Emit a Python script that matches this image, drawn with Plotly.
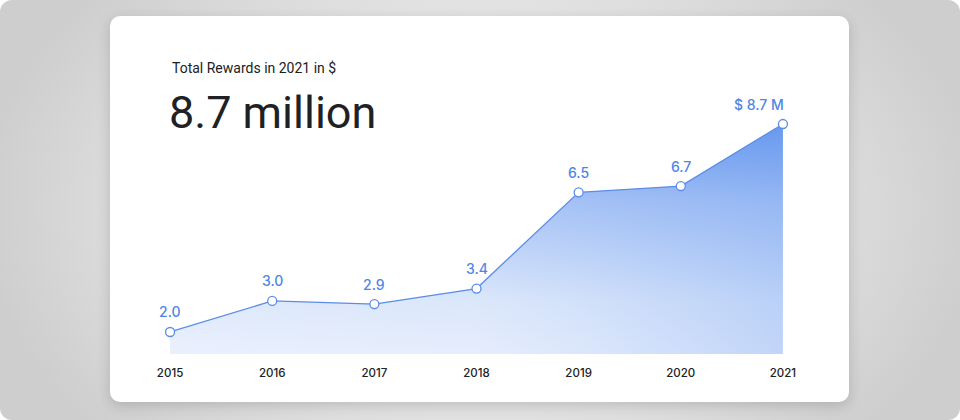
import base64
import plotly.graph_objects as go

# ---------------- data ----------------
years = [2015, 2016, 2017, 2018, 2019, 2020, 2021]
rewards_musd = [2.0, 3.0, 2.9, 3.4, 6.5, 6.7, 8.7]
point_labels = ["2.0", "3.0", "2.9", "3.4", "6.5", "6.7", "$ 8.7 M"]
tick_labels = ["2015", "2016", "2017", "2018", "2019", "2020", "2021"]
caption_text = "Total Rewards in 2021 in $"
headline_text = "8.7 million"

# ---------------- layout geometry ----------------
W, H = 960, 420
ML, MR, MT, MB = 119, 126, 16, 66
PW, PH = W - ML - MR, H - MT - MB
Y_MIN, Y_MAX = 1.291, 12.18


def xp(px):
    return (px - ML) / PW


def yp(py):
    return (H - MB - py) / PH


BLUE_LINE = "#5b8de8"
BLUE_TEXT = "#4f86e6"
DARK = "#202124"
FONT = "Roboto, 'Open Sans', sans-serif"
FONT_NUM = "Inter, 'Open Sans', sans-serif"

# background: gray rounded panel, card shadow, white card
svg = f'''<svg xmlns="http://www.w3.org/2000/svg" width="{W}" height="{H}" viewBox="0 0 {W} {H}">
<defs>
<radialGradient id="bg" gradientUnits="userSpaceOnUse" cx="480" cy="210" r="500"
 gradientTransform="translate(480 210) scale(1 0.68) translate(-480 -210)">
<stop offset="0" stop-color="#f3f3f3"/>
<stop offset="0.5" stop-color="#e7e7e7"/>
<stop offset="1" stop-color="#cecece"/>
</radialGradient>
<filter id="sh" x="-20%" y="-20%" width="140%" height="140%"><feGaussianBlur stdDeviation="7"/></filter>
</defs>
<rect x="0" y="0" width="{W}" height="{H}" rx="12" fill="url(#bg)"/>
<rect x="110" y="20" width="739" height="386" rx="10" fill="#000" opacity="0.16" filter="url(#sh)"/>
<rect x="110" y="16" width="739" height="386" rx="10" fill="#ffffff"/>
</svg>'''
svg_uri = "data:image/svg+xml;base64," + base64.b64encode(svg.encode()).decode()

fig = go.Figure()

# area fill: vertical gradient
fig.add_trace(go.Scatter(
    x=years, y=rewards_musd, mode="none", fill="tozeroy",
    fillgradient=dict(
        type="vertical", start=Y_MIN, stop=max(rewards_musd),
        colorscale=[[0, "rgb(234,240,253)"], [0.235, "rgb(222,233,251)"],
                    [0.669, "rgb(170,197,246)"], [1, "rgb(105,153,239)"]],
    ),
    hoverinfo="skip", showlegend=False,
))
# area fill: horizontal tint (stronger towards the right)
fig.add_trace(go.Scatter(
    x=years, y=rewards_musd, mode="none", fill="tozeroy",
    fillgradient=dict(
        type="horizontal", start=min(years), stop=max(years),
        colorscale=[[0, "rgba(100,150,238,0)"], [0.5, "rgba(100,150,238,0.03)"],
                    [0.667, "rgba(100,150,238,0.1)"], [1, "rgba(100,150,238,0.3)"]],
    ),
    hoverinfo="skip", showlegend=False,
))
# line + markers
fig.add_trace(go.Scatter(
    x=years, y=rewards_musd, mode="lines+markers",
    line=dict(color=BLUE_LINE, width=1.3),
    marker=dict(size=9, color="white", line=dict(color=BLUE_LINE, width=1.3)),
    cliponaxis=False, showlegend=False,
))

annotations = []
for i, (yr, v, lab) in enumerate(zip(years, rewards_musd, point_labels)):
    last = i == len(years) - 1
    annotations.append(dict(
        x=yr, y=v, xref="x", yref="y", text=lab, showarrow=False,
        xanchor="right" if last else "center", yanchor="middle",
        xshift=3 if last else 0, yshift=20,
        font=dict(family=FONT_NUM, size=14, color=BLUE_TEXT, weight=500),
    ))

annotations.append(dict(
    x=xp(170), y=yp(68), xref="paper", yref="paper", text=caption_text,
    showarrow=False, xanchor="left", yanchor="middle",
    font=dict(family=FONT, size=14, color=DARK),
))
annotations.append(dict(
    x=xp(167), y=yp(112), xref="paper", yref="paper", text=headline_text,
    showarrow=False, xanchor="left", yanchor="middle",
    font=dict(family=FONT, size=45, color=DARK),
))

fig.update_layout(
    width=W, height=H,
    margin=dict(l=ML, r=MR, t=MT, b=MB, pad=0),
    paper_bgcolor="white", plot_bgcolor="rgba(0,0,0,0)",
    showlegend=False,
    images=[dict(source=svg_uri, xref="paper", yref="paper",
                 x=xp(0), y=yp(0), sizex=W / PW, sizey=H / PH,
                 xanchor="left", yanchor="top", sizing="stretch", layer="below")],
    annotations=annotations,
    xaxis=dict(range=[min(years) - 0.5, max(years) + 0.5], tickvals=years,
               ticktext=tick_labels, showgrid=False, zeroline=False,
               showline=False, ticks="", ticklabelstandoff=10,
               tickfont=dict(family=FONT_NUM, size=11.5, color=DARK, weight=500),
               fixedrange=True),
    yaxis=dict(range=[Y_MIN, Y_MAX], visible=False, showgrid=False,
               zeroline=False, fixedrange=True),
)

fig.write_html(
    "out.html",
    config={"displayModeBar": False},
    post_script="document.body.style.margin='0';document.body.style.overflow='hidden';",
)
